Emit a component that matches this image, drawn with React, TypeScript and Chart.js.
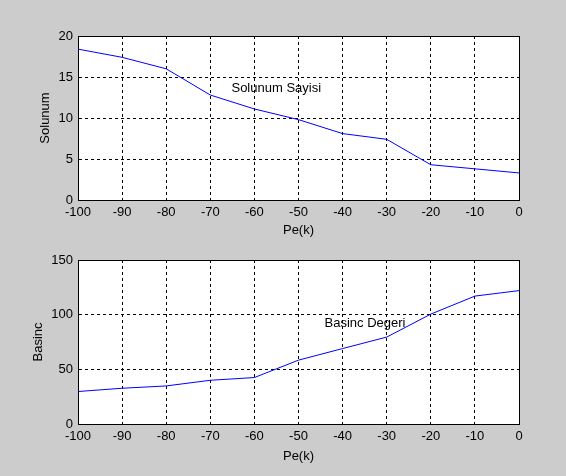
import React, { useEffect, useRef } from "react";
import { Chart, registerables } from "chart.js";

Chart.register(...registerables);

// ---- data ----
const peK = [-100, -90, -80, -70, -60, -50, -40, -30, -20, -10, 0];
const solunumSayisi = [18.4, 17.4, 16.0, 12.8, 11.1, 9.8, 8.1, 7.4, 4.3, 3.8, 3.3];
const basincDegeri = [29.7, 32.7, 34.8, 40.0, 42.5, 58.4, 69.0, 79.5, 100.5, 117.0, 122.0];

const xLabel = "Pe(k)";
const topYLabel = "Solunum";
const bottomYLabel = "Basinc";
const topNote = "Solunum Sayisi";
const bottomNote = "Basinc Degeri";

const FONT = "'Liberation Sans', Arial, Helvetica, sans-serif";

const matlabAxes = {
  id: "matlabAxes",
  beforeDraw(chart: any) {
    const { ctx, chartArea: a } = chart;
    ctx.save();
    ctx.fillStyle = "#ffffff";
    ctx.fillRect(a.left, a.top, a.right - a.left, a.bottom - a.top);
    ctx.restore();
  },
  afterDraw(chart: any, _args: any, opts: any) {
    const { ctx, chartArea: a, scales } = chart;
    ctx.save();
    ctx.strokeStyle = "#000000";
    ctx.lineWidth = 1;
    ctx.setLineDash([]);
    const l = Math.round(a.left) + 0.5;
    const t = Math.round(a.top) + 0.5;
    const r = Math.round(a.right) + 0.5;
    const b = Math.round(a.bottom) + 0.5;
    ctx.strokeRect(l, t, r - l, b - t);
    if (opts && opts.text) {
      ctx.fillStyle = "#000000";
      ctx.font = `13px ${FONT}`;
      ctx.textAlign = "left";
      ctx.textBaseline = "middle";
      ctx.fillText(opts.text, scales.x.getPixelForValue(opts.x), scales.y.getPixelForValue(opts.y));
    }
    ctx.restore();
  },
};

function makeConfig(
  values: number[],
  yMax: number,
  yStep: number,
  yTitle: string,
  padTop: number,
  xAxisHeight: number,
  xTitlePadBottom: number,
  yTitlePadLeft: number,
  note: { text: string; x: number; y: number }
): any {
  return {
    type: "line",
    data: {
      datasets: [
        {
          data: peK.map((x, i) => ({ x, y: values[i] })),
          borderColor: "#0000ff",
          borderWidth: 1,
          pointRadius: 0,
          tension: 0,
          fill: false,
        },
      ],
    },
    options: {
      responsive: false,
      animation: false,
      layout: { padding: { top: padTop, right: 47, left: 0, bottom: 0 } },
      plugins: {
        legend: { display: false },
        tooltip: { enabled: false },
        matlabAxes: note,
      },
      scales: {
        x: {
          type: "linear",
          min: -100,
          max: 0,
          afterFit(scale: any) {
            scale.height = xAxisHeight;
          },
          ticks: {
            stepSize: 10,
            color: "#000",
            font: { family: FONT, size: 13 },
            padding: 5,
            maxRotation: 0,
            autoSkip: false,
          },
          grid: { color: "#000", lineWidth: 1, drawTicks: false },
          border: { display: true, color: "#000", dash: [3, 3] },
          title: {
            display: true,
            text: xLabel,
            color: "#000",
            font: { family: FONT, size: 13 },
            padding: { top: 0, bottom: xTitlePadBottom },
          },
        },
        y: {
          type: "linear",
          min: 0,
          max: yMax,
          afterFit(scale: any) {
            scale.width = 78;
          },
          ticks: {
            stepSize: yStep,
            color: "#000",
            font: { family: FONT, size: 13 },
            padding: 5,
          },
          grid: { color: "#000", lineWidth: 1, drawTicks: false },
          border: { display: true, color: "#000", dash: [3, 3] },
          title: {
            display: true,
            text: yTitle,
            color: "#000",
            font: { family: FONT, size: 13 },
            padding: { top: yTitlePadLeft, bottom: 0 },
          },
        },
      },
    },
    plugins: [matlabAxes],
  };
}

export default function App() {
  const topRef = useRef<HTMLCanvasElement>(null);
  const botRef = useRef<HTMLCanvasElement>(null);

  useEffect(() => {
    document.body.style.margin = "0";
    document.body.style.background = "#cccccc";
    const c1 = new Chart(
      topRef.current as HTMLCanvasElement,
      makeConfig(solunumSayisi, 20, 5, topYLabel, 36, 38, 0, 38, { text: topNote, x: -65.2, y: 13.6 })
    );
    const c2 = new Chart(
      botRef.current as HTMLCanvasElement,
      makeConfig(basincDegeri, 150, 50, bottomYLabel, 22, 52, 12, 31, { text: bottomNote, x: -44.1, y: 92 })
    );
    return () => {
      c1.destroy();
      c2.destroy();
    };
  }, []);

  return (
    <div style={{ position: "fixed", left: 0, top: 0, width: 566, height: 476, background: "#cccccc" }}>
      <canvas ref={topRef} width={566} height={238} style={{ display: "block", width: 566, height: 238 }} />
      <canvas ref={botRef} width={566} height={238} style={{ display: "block", width: 566, height: 238 }} />
    </div>
  );
}
